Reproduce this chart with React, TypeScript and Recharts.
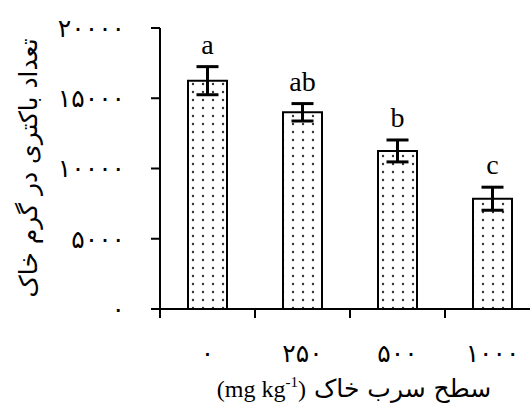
import { BarChart, Bar, XAxis, YAxis, ErrorBar, LabelList } from 'recharts';

// تعداد باکتری در سطوح مختلف سرب خاک
const levels = ['۰', '۲۵۰', '۵۰۰', '۱۰۰۰'];
const bacteria = [16250, 14000, 11250, 7850];
const errors = [1000, 620, 780, 820];
const letters = ['a', 'ab', 'b', 'c'];

const yTicks = [0, 5000, 10000, 15000, 20000];
const yTickLabels = ['۰', '۵۰۰۰', '۱۰۰۰۰', '۱۵۰۰۰', '۲۰۰۰۰'];

const data = levels.map((level, i) => ({
  level,
  count: bacteria[i],
  err: errors[i],
  letter: letters[i],
}));

const persianFont = '"DejaVu Sans", sans-serif';
const latinFont = '"Liberation Serif", "DejaVu Serif", serif';

const XTick = (props: any) => {
  const { x, y, payload } = props;
  const half = payload?.offset ?? 47.5;
  return (
    <g>
      <line x1={x - half} y1={y} x2={x - half} y2={y + 9} stroke="#000" strokeWidth={2} />
      <text x={x} y={y + 53} textAnchor="middle" fontFamily={persianFont} fontSize={25} fill="#000">
        {payload.value}
      </text>
    </g>
  );
};

const renderLetter = (props: any) => {
  const { x, y, width, height, value, index } = props;
  const errPx = (errors[index] * height) / bacteria[index];
  return (
    <text
      x={x + width / 2}
      y={y - errPx - 13}
      textAnchor="middle"
      fontFamily={latinFont}
      fontSize={28}
      fill="#000"
    >
      {value}
    </text>
  );
};

const YTitle = () => (
  <text
    x={28}
    y={168}
    transform="rotate(-90, 28, 168)"
    textAnchor="middle"
    dominantBaseline="central"
    fontFamily={persianFont}
    fontSize={25}
    fill="#000"
  >
    تعداد باکتری در گرم خاک
  </text>
);

const XTitle = () => (
  <text x={354} y={397} textAnchor="middle" fontSize={24} fill="#000" direction="ltr">
    <tspan fontFamily={latinFont}>(mg kg</tspan>
    <tspan fontFamily={latinFont} fontSize={15} dy={-10}>-1</tspan>
    <tspan fontFamily={latinFont} dy={10}>)</tspan>
    <tspan fontFamily={persianFont} fontSize={25}> سطح سرب خاک</tspan>
  </text>
);

export default function App() {
  return (
    <div style={{ position: 'absolute', left: 0, top: 0, width: 530, height: 406, overflow: 'hidden', background: '#fff' }}>
      <BarChart width={540} height={406} data={data} margin={{ top: 28, right: 0, bottom: 0, left: 0 }}>
        <defs>
          <pattern id="dots" width={10} height={8} patternUnits="userSpaceOnUse">
            <rect width={10} height={8} fill="#fff" />
            <circle cx={3} cy={4} r={1.2} fill="#333" />
          </pattern>
        </defs>
        <XAxis
          dataKey="level"
          height={97}
          axisLine={{ stroke: '#000', strokeWidth: 2 }}
          tickLine={false}
          tickSize={0}
          tickMargin={0}
          tick={<XTick />}
          interval={0}
        />
        <YAxis
          width={160}
          domain={[0, 20000]}
          ticks={yTicks}
          tickFormatter={(v: number) => yTickLabels[yTicks.indexOf(v)]}
          axisLine={{ stroke: '#000', strokeWidth: 2 }}
          tickLine={{ stroke: '#000', strokeWidth: 2 }}
          tickSize={9}
          tickMargin={26}
          tick={{ fill: '#000', fontSize: 25, fontFamily: persianFont }}
          interval={0}
        />
        <Bar dataKey="count" barSize={39} fill="url(#dots)" stroke="#000" strokeWidth={2} isAnimationActive={false}>
          <ErrorBar dataKey="err" width={11} stroke="#000" strokeWidth={3} direction="y" />
          <LabelList dataKey="letter" content={renderLetter} />
        </Bar>
        <YTitle />
        <XTitle />
      </BarChart>
    </div>
  );
}
